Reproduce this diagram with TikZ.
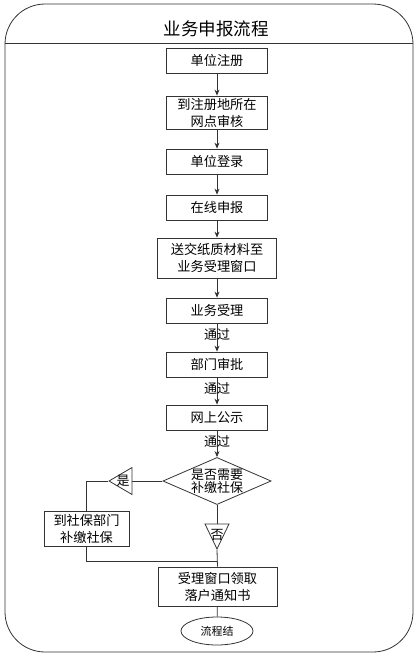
\documentclass[tikz,border=0pt]{standalone}
\usepackage{fontspec}
\setmainfont{Noto Sans CJK SC}
\usetikzlibrary{positioning,shapes.geometric,arrows.meta}

\begin{document}
\begin{tikzpicture}[x=1pt, y=1pt, >={Stealth[length=6pt,width=5pt]}, line width=0.8pt, draw=black!80,
  every stage/.style={draw, minimum width=101, minimum height=25, inner sep=0, align=center, font=\fontsize{13.2}{17}\selectfont},
  stage visit/.style={minimum height=33},
  stage send/.style={minimum width=119, minimum height=40},
  stage get/.style={minimum width=119, minimum height=39},
  stage social/.style={minimum width=85, minimum height=35},
  every pass/.style={font=\fontsize{13}{15}\selectfont, inner sep=0},
  every flag/.style={draw, isosceles triangle, isosceles triangle stretches, inner sep=0, anchor=apex}]

\useasboundingbox (0,0) rectangle (418,-656);
\draw[rounded corners=40] (5,-4) rectangle (413,-652);
\draw (5,-43) -- (413,-43);
\node[font=\fontsize{17.5}{20}\selectfont] (title) at (216,-29) {业务申报流程};

\foreach \m/\t/\y in {reg/单位注册/60.5, visit/{到注册地所在\\网点审核}/112.5, login/单位登录/161.5,
    apply/在线申报/207.5, send/{送交纸质材料至\\业务受理窗口}/258, accept/业务受理/310.5,
    dept/部门审批/364.5, publ/网上公示/417.5}
  \node [every stage/.try, stage \m/.try] (stage-\m) at (217,-\y) {\t};

\node [draw, diamond, aspect=2.3, minimum width=106, minimum height=46, inner sep=0,
  align=center, font=\fontsize{13}{13}\selectfont] (ask) at (217,-481) {是否需要\\补缴社保};

\node [every stage/.try, stage social/.try] (stage-social) at (86.5,-528.5) {到社保部门\\补缴社保};
\node [every stage/.try, stage get/.try] (stage-get) at (217.5,-586.5) {受理窗口领取\\落户通知书};
\node [draw, ellipse, minimum width=72, minimum height=28, inner sep=0,
  font=\fontsize{11}{13}\selectfont] (end) at (217,-631) {流程结};

\node [every flag/.try, shape border rotate=180, minimum width=27, minimum height=23] (yes) at (108,-481) {};
\node [every flag/.try, shape border rotate=-90, minimum width=24, minimum height=25] (no) at (217,-550) {};
\node [every pass/.try] (yes-text) at (123,-481) {是};
\node [every pass/.try] (no-text) at (217,-535) {否};
\coordinate (join) at (217,-561);

\foreach \a/\b in {reg/visit, visit/login, login/apply, apply/send, send/accept}
  \draw [->] (stage-\a) -- (stage-\b);

\foreach \a/\b in {accept/dept, dept/publ}
  \draw [->] (stage-\a) -- (stage-\b)
    node [every pass/.try, pos=0.4] {通过};
\draw [->] (stage-publ) -- (ask) node [every pass/.try, pos=0.4] {通过};

\draw (ask) -- (yes);
\draw (yes.apex) -| (stage-social.north);
\draw (ask) -- (no);
\draw (no.apex) -- (stage-get.north);
\draw (stage-social.south) |- (join);
\draw (stage-get) -- (end);

\end{tikzpicture}
\end{document}
